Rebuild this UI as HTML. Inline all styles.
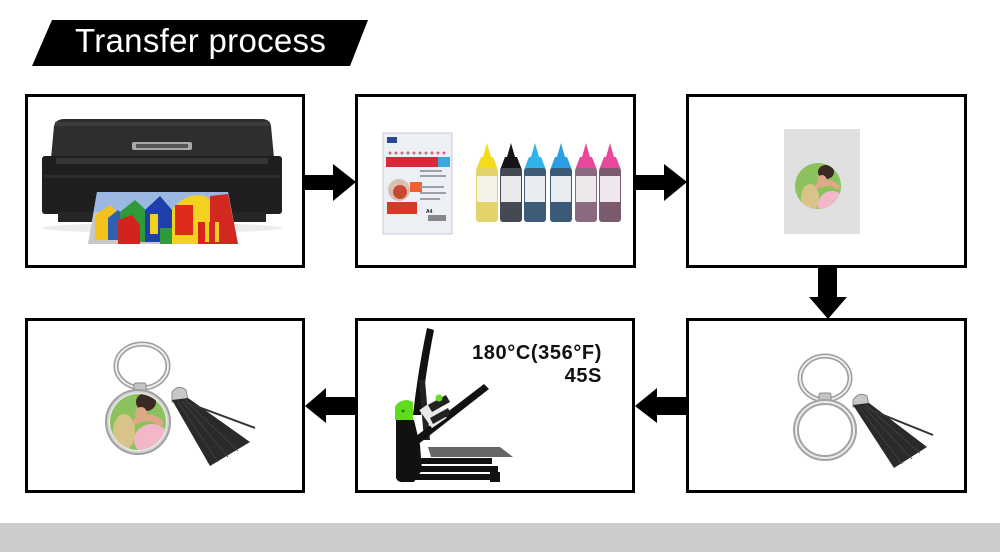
<!DOCTYPE html>
<html><head><meta charset="utf-8"><style>
html,body{margin:0;padding:0;background:#fff;}
body{width:1000px;height:558px;overflow:hidden;}
svg{display:block;}
</style></head><body>
<svg width="1000" height="558" viewBox="0 0 1000 558" xmlns="http://www.w3.org/2000/svg">
<defs>
<clipPath id="c1"><circle cx="818" cy="186" r="23"/></clipPath>
<clipPath id="c2"><circle cx="138" cy="422" r="28"/></clipPath>
<clipPath id="pp"><polygon points="97,192 228,192 238,244 88,244"/></clipPath>
</defs>
<rect width="1000" height="558" fill="#fff"/>
<!-- title -->
<polygon points="52,20 368,20 350,66 32,66" fill="#000"/>
<text x="75" y="52" fill="#fff" font-family="Liberation Sans, sans-serif" font-size="33" letter-spacing="0.3">Transfer process</text>

<!-- boxes -->
<g fill="none" stroke="#000" stroke-width="3">
<rect x="26.5" y="95.5" width="277" height="171"/>
<rect x="356.5" y="95.5" width="278" height="171"/>
<rect x="687.5" y="95.5" width="278" height="171"/>
<rect x="26.5" y="319.5" width="277" height="172"/>
<rect x="356.5" y="319.5" width="277" height="172"/>
<rect x="687.5" y="319.5" width="278" height="172"/>
</g>

<!-- arrows -->
<g fill="#000">
<polygon points="305,175 333,175 333,164 356,182 333,201 333,190 305,190"/>
<polygon points="636,175 664,175 664,164 687,182 664,201 664,190 636,190"/>
<polygon points="818,268 837,268 837,297 847,297 828,319 809,297 818,297"/>
<polygon points="686,397 657,397 657,388 635,406 657,423 657,415 686,415"/>
<polygon points="355,397 326,397 326,388 305,406 326,423 326,415 355,415"/>
</g>

<!-- printer -->
<ellipse cx="162" cy="228" rx="120" ry="5" fill="#ececec"/>
<path d="M54,126 Q56,119 64,119 L262,119 Q270,119 271,126 L274,158 L51,158 Z" fill="#2e2e2e"/>
<rect x="55" y="122" width="215" height="4" fill="#3c3c3c"/>
<rect x="42" y="156" width="240" height="58" rx="3" fill="#1f1f1f"/>
<rect x="56" y="158" width="212" height="6" fill="#363636"/>
<rect x="44" y="175" width="236" height="3" fill="#2c2c2c"/>
<rect x="58" y="212" width="208" height="10" fill="#262626"/>
<rect x="132" y="142" width="60" height="8" rx="2" fill="#a8a8a8"/>
<rect x="136" y="144" width="52" height="4" fill="#555"/>
<g clip-path="url(#pp)">
<rect x="88" y="192" width="150" height="52" fill="#c8c8cc"/>
<rect x="88" y="192" width="150" height="20" fill="#9ab8e2"/>
<polygon points="95,215 110,205 120,215 120,240 95,240" fill="#f2c21a"/>
<polygon points="108,218 118,210 128,220 128,240 108,240" fill="#2f5fb0"/>
<polygon points="120,212 135,200 148,212 148,242 120,242" fill="#2e9a3a"/>
<polygon points="118,220 132,215 140,225 140,244 118,244" fill="#d2231f"/>
<polygon points="145,210 160,196 172,210 172,242 145,242" fill="#1f3faa"/>
<rect x="150" y="214" width="8" height="20" fill="#f0d020"/>
<polygon points="160,228 180,228 180,244 160,244" fill="#2e9a3a"/>
<path d="M172,210 Q185,192 205,196 L215,205 L215,244 L172,244 Z" fill="#f2d21e"/>
<rect x="175" y="205" width="18" height="30" fill="#e02a1c"/>
<rect x="198" y="222" width="40" height="22" fill="#d8241c"/>
<polygon points="210,196 228,194 238,244 210,244" fill="#d22820"/>
<rect x="205" y="222" width="4" height="20" fill="#f2d21e"/>
<rect x="215" y="222" width="4" height="20" fill="#f2d21e"/>
</g>

<!-- paper + inks -->
<rect x="383" y="133" width="69" height="101" fill="#eceff4" stroke="#c8ccd4" stroke-width="1"/>
<rect x="387" y="137" width="10" height="6" fill="#2a4a90"/>
<rect x="386" y="157" width="52" height="10" fill="#d8283a"/>
<rect x="438" y="157" width="12" height="10" fill="#3aa8e0"/>
<g fill="#e06080"><circle cx="390" cy="153" r="1.5"/><circle cx="396" cy="153" r="1.5"/><circle cx="402" cy="153" r="1.5"/><circle cx="408" cy="153" r="1.5"/><circle cx="414" cy="153" r="1.5"/><circle cx="420" cy="153" r="1.5"/><circle cx="426" cy="153" r="1.5"/><circle cx="432" cy="153" r="1.5"/><circle cx="438" cy="153" r="1.5"/><circle cx="444" cy="153" r="1.5"/></g>
<circle cx="399" cy="190" r="11" fill="#d8c0b0"/>
<circle cx="400" cy="192" r="7" fill="#c84830"/>
<rect x="387" y="202" width="30" height="12" fill="#d83828"/>
<rect x="410" y="182" width="12" height="10" fill="#f06030"/>
<g fill="#9aa0a8"><rect x="420" y="170" width="22" height="2"/><rect x="420" y="175" width="26" height="2"/><rect x="420" y="186" width="24" height="2"/><rect x="420" y="192" width="26" height="2"/><rect x="420" y="198" width="20" height="2"/></g>
<rect x="428" y="215" width="18" height="6" fill="#888"/>
<text x="426" y="213" font-family="Liberation Sans, sans-serif" font-size="5" font-weight="bold" fill="#222">A4</text>

<g>
<!-- bottle template -->
<g transform="translate(487,0)"><polygon points="0,143 -4,157 4,157" fill="#f2dc1c"/><path d="M-6,157 L6,157 L11,170 L-11,170 Z" fill="#f2dc1c"/><rect x="-11" y="168" width="22" height="54" rx="3" fill="#e4d26a"/><rect x="-10" y="176" width="20" height="26" fill="#f4f2e4"/></g>
<g transform="translate(511,0)"><polygon points="0,143 -4,157 4,157" fill="#151515"/><path d="M-6,157 L6,157 L11,170 L-11,170 Z" fill="#151515"/><rect x="-11" y="168" width="22" height="54" rx="3" fill="#434a54"/><rect x="-10" y="176" width="20" height="26" fill="#e8eaec"/></g>
<g transform="translate(535,0)"><polygon points="0,143 -4,157 4,157" fill="#2eb4ea"/><path d="M-6,157 L6,157 L11,170 L-11,170 Z" fill="#2eb4ea"/><rect x="-11" y="168" width="22" height="54" rx="3" fill="#3c5c7a"/><rect x="-10" y="176" width="20" height="26" fill="#e8ecf0"/></g>
<g transform="translate(561,0)"><polygon points="0,143 -4,157 4,157" fill="#2a9ee2"/><path d="M-6,157 L6,157 L11,170 L-11,170 Z" fill="#2a9ee2"/><rect x="-11" y="168" width="22" height="54" rx="3" fill="#3a5a78"/><rect x="-10" y="176" width="20" height="26" fill="#e8ecf0"/></g>
<g transform="translate(586,0)"><polygon points="0,143 -4,157 4,157" fill="#e8489a"/><path d="M-6,157 L6,157 L11,170 L-11,170 Z" fill="#e8489a"/><rect x="-11" y="168" width="22" height="54" rx="3" fill="#8a6a80"/><rect x="-10" y="176" width="20" height="26" fill="#eee8ec"/></g>
<g transform="translate(610,0)"><polygon points="0,143 -4,157 4,157" fill="#e8489a"/><path d="M-6,157 L6,157 L11,170 L-11,170 Z" fill="#e8489a"/><rect x="-11" y="168" width="22" height="54" rx="3" fill="#7a5a6c"/><rect x="-10" y="176" width="20" height="26" fill="#eee8ec"/></g>
</g>

<!-- box3: printed paper -->
<rect x="784" y="129" width="76" height="105" fill="#e0e0e0"/>
<g clip-path="url(#c1)">
<rect x="795" y="163" width="46" height="46" fill="#8cc25e"/>
<ellipse cx="832" cy="205" rx="14" ry="14" fill="#f2b8c8"/>
<ellipse cx="810" cy="198" rx="9" ry="14" fill="#d8c488"/>
<ellipse cx="826" cy="172" rx="8" ry="7" fill="#3a2a22"/>
<ellipse cx="822" cy="181" rx="5" ry="6" fill="#dca888"/>
<path d="M815,185 Q830,175 840,186 L838,190 Q828,182 816,190 Z" fill="#e0a888"/>
</g>

<!-- box6: finished keyring -->
<ellipse cx="142" cy="366" rx="26" ry="22" fill="none" stroke="#9c9c9c" stroke-width="5"/>
<ellipse cx="142" cy="366" rx="26" ry="22" fill="none" stroke="#ececec" stroke-width="2"/>
<rect x="134" y="383" width="12" height="10" rx="2" fill="#c4c4c4" stroke="#8a8a8a" stroke-width="1"/>
<circle cx="138" cy="422" r="32" fill="#d4d4d4" stroke="#a0a0a0" stroke-width="2"/>
<circle cx="138" cy="422" r="29" fill="#f0f0f0"/>
<g clip-path="url(#c2)">
<rect x="108" y="392" width="60" height="60" fill="#8cc25e"/>
<ellipse cx="152" cy="440" rx="18" ry="16" fill="#f2b8c8"/>
<ellipse cx="124" cy="432" rx="11" ry="18" fill="#d8c488"/>
<ellipse cx="146" cy="402" rx="10" ry="9" fill="#3a2a22"/>
<ellipse cx="141" cy="414" rx="6" ry="7" fill="#dca888"/>
<path d="M132,420 Q150,408 164,422 L161,427 Q148,416 134,426 Z" fill="#e0a888"/>
</g>
<path d="M172,392 Q178,384 186,390 L188,400 L172,402 Z" fill="#c8c8c8" stroke="#8c8c8c" stroke-width="1"/>
<polygon points="172,400 188,398 250,442 210,466" fill="#2a2a2a"/>
<line x1="185" y1="402" x2="255" y2="428" stroke="#333" stroke-width="2"/>
<g stroke="#444" stroke-width="0.8"><line x1="178" y1="402" x2="218" y2="462"/><line x1="182" y1="401" x2="228" y2="457"/><line x1="185" y1="400" x2="238" y2="451"/></g>

<!-- box4: blank keyring -->
<ellipse cx="825" cy="378" rx="25" ry="22" fill="none" stroke="#9c9c9c" stroke-width="5"/>
<ellipse cx="825" cy="378" rx="25" ry="22" fill="none" stroke="#ececec" stroke-width="2"/>
<rect x="819" y="393" width="12" height="8" rx="2" fill="#c4c4c4" stroke="#8a8a8a" stroke-width="1"/>
<ellipse cx="825" cy="430" rx="29" ry="28" fill="none" stroke="#a4a4a4" stroke-width="6"/>
<ellipse cx="825" cy="430" rx="29" ry="28" fill="none" stroke="#ececec" stroke-width="2"/>
<path d="M853,400 Q859,391 867,396 L869,405 L853,407 Z" fill="#c8c8c8" stroke="#8c8c8c" stroke-width="1"/>
<polygon points="853,405 869,403 927,447 894,468" fill="#2a2a2a"/>
<line x1="866" y1="408" x2="933" y2="435" stroke="#333" stroke-width="2"/>
<g stroke="#444" stroke-width="0.8"><line x1="859" y1="407" x2="902" y2="464"/><line x1="863" y1="406" x2="912" y2="459"/><line x1="866" y1="405" x2="920" y2="453"/></g>

<!-- box5: heat press -->
<path d="M427,328 L434,330 Q426,370 421,415 L413,415 Q418,370 427,328 Z" fill="#111"/>
<path d="M419,380 L425,380 L430,440 L424,440 Z" fill="#222"/>
<polygon points="411,440 484,384 489,389 416,446" fill="#111"/>
<rect x="424" y="403" width="18" height="22" fill="#e8e8e8" transform="rotate(-35 433 414)"/>
<path d="M428,405 L446,395 L450,402 L432,412 Z" fill="#222"/>
<path d="M430,418 L448,408 L451,414 L433,424 Z" fill="#222"/>
<circle cx="439" cy="398" r="3.5" fill="#66dd22"/>
<path d="M396,420 L396,478 Q398,483 404,482 L414,482 L422,470 L420,445 L414,420 Z" fill="#111"/>
<path d="M395,420 L395,407 Q398,400 408,400 L413,402 L413,420 Z" fill="#5fdc1e"/>
<circle cx="403" cy="411" r="1.5" fill="#2a7a10"/>
<polygon points="428,447 500,447 513,457 431,457" fill="#666"/>
<rect x="414" y="458" width="78" height="6" fill="#111"/>
<rect x="420" y="466" width="78" height="6" fill="#111"/>
<rect x="404" y="474" width="96" height="6" fill="#111"/>
<rect x="490" y="472" width="10" height="10" fill="#111"/>
<g font-family="Liberation Sans, sans-serif" font-size="20" font-weight="bold" fill="#111" text-anchor="end" letter-spacing="0.6">
<text x="602" y="359">180°C(356°F)</text>
<text x="602" y="382">45S</text>
</g>

<!-- bottom bar -->
<rect x="0" y="523" width="1000" height="29" fill="#cccccc"/>
</svg>
</body></html>
